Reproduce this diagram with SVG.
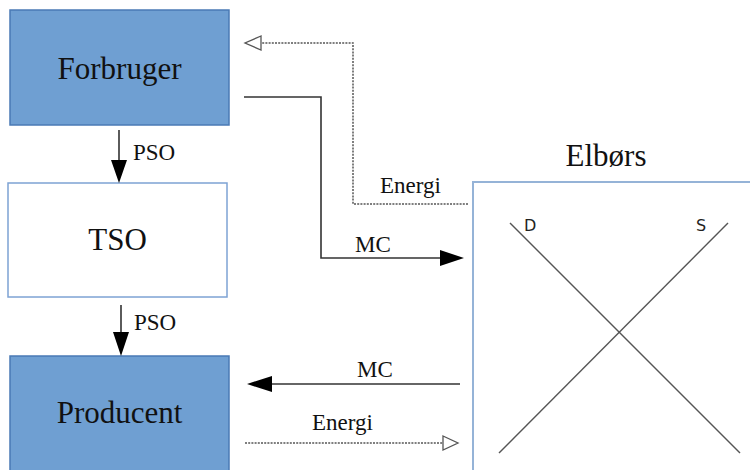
<svg xmlns="http://www.w3.org/2000/svg" width="750" height="470" viewBox="0 0 750 470">
<style>
.serif{font-family:'Liberation Serif','Tinos','DejaVu Serif',serif;fill:#111}
.big{font-size:31px}
.small{font-size:23px}
.sans{font-family:'DejaVu Sans','Liberation Sans',sans-serif;font-size:16px;fill:#222}
.solid{fill:none;stroke:#333;stroke-width:1.6}
.dot{fill:none;stroke:#555;stroke-width:1.5;stroke-dasharray:2 1.2}
.head{fill:#000}
.ohead{fill:#fff;stroke:#555;stroke-width:1.3}
</style>
<rect width="750" height="470" fill="#fff"/>
<g id="forbruger">
<rect x="10" y="10" width="219" height="115" fill="#6f9fd2" stroke="#4a7ab5" stroke-width="1.5"/>
<text class="serif big" x="119.5" y="79" text-anchor="middle" font-family="Liberation Serif, serif">Forbruger</text>
</g>
<g id="tso">
<rect x="8" y="183" width="219" height="114" fill="#fff" stroke="#7ea3d4" stroke-width="1.5"/>
<text class="serif big" x="117.5" y="250" text-anchor="middle">TSO</text>
</g>
<g id="producent">
<rect x="10" y="356" width="219" height="124" fill="#6f9fd2" stroke="#4a7ab5" stroke-width="1.5"/>
<text class="serif big" x="119.5" y="423" text-anchor="middle">Producent</text>
</g>
<g id="elbors">
<text class="serif big" x="606" y="166" text-anchor="middle">Elbørs</text>
<rect x="473" y="182" width="300" height="300" fill="#fff" stroke="#95b3d7" stroke-width="2"/>
<line x1="510" y1="223" x2="740" y2="453" stroke="#555" stroke-width="1.4"/>
<line x1="728" y1="223" x2="499" y2="453" stroke="#555" stroke-width="1.4"/>
<text class="sans" x="524" y="231">D</text>
<text class="sans" x="696" y="231">S</text>
</g>
<g id="connectors">
<line class="solid" x1="119" y1="130" x2="119" y2="165"/>
<path class="head" d="M111,160 L127,160 L119,183 Z"/>
<text class="serif small" x="133" y="160">PSO</text>
<line class="solid" x1="121" y1="305" x2="121" y2="340"/>
<path class="head" d="M113,332 L129,332 L121,356 Z"/>
<text class="serif small" x="134" y="330">PSO</text>
<path class="solid" d="M244,97 L321,97 L321,258 L442,258"/>
<path class="head" d="M440,250 L464,258 L440,266 Z"/>
<text class="serif small" x="355" y="252">MC</text>
<path class="dot" d="M468,204 L353,204 L353,43 L260,43"/>
<path class="ohead" d="M261,36 L245,43 L261,50 Z"/>
<text class="serif small" x="380" y="193">Energi</text>
<line class="solid" x1="460" y1="384" x2="270" y2="384"/>
<path class="head" d="M272,376 L247,384 L272,392 Z"/>
<text class="serif small" x="357" y="377">MC</text>
<line class="dot" x1="245" y1="443" x2="443" y2="443"/>
<path class="ohead" d="M443,436 L458,443 L443,450 Z"/>
<text class="serif small" x="312" y="430">Energi</text>
</g>
</svg>
